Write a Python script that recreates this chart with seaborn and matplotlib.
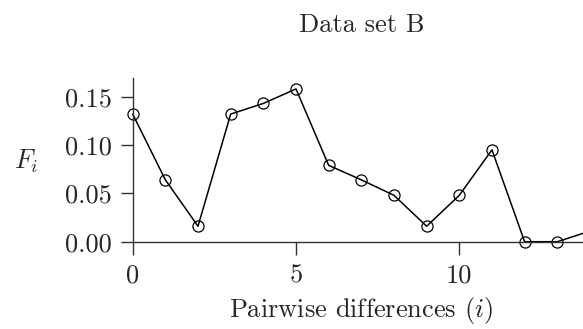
import numpy as np
import pandas as pd
import matplotlib
matplotlib.use('Agg')
import matplotlib.pyplot as plt
import seaborn as sns

# values
diffs = list(range(15))
freqs = [0.132, 0.064, 0.016, 0.132, 0.143, 0.158, 0.079, 0.064,
         0.048, 0.016, 0.048, 0.095, 0.0, 0.0, 0.011]
x_ticks = [0, 5, 10]
y_ticks = [0.00, 0.05, 0.10, 0.15]

sns.set_style('ticks')
plt.rcParams['font.family'] = 'serif'
plt.rcParams['font.serif'] = ['cmr10']
plt.rcParams['mathtext.fontset'] = 'cm'
plt.rcParams['axes.formatter.use_mathtext'] = True
plt.rcParams['font.size'] = 19

df = pd.DataFrame({'i': diffs, 'F': freqs})

fig = plt.figure(figsize=(5.83, 3.29), dpi=100)
ax = fig.add_axes([0.2276, 0.2653, 0.7843, 0.4967])

sns.lineplot(data=df, x='i', y='F', ax=ax, color='black', linewidth=1.1,
             marker='o', markersize=8, markerfacecolor='none',
             markeredgecolor='black', markeredgewidth=0.9)
for line in ax.lines:
    line.set_clip_on(False)

ax.set_xlim(0, 14)
ax.set_ylim(0, 0.169)
ax.set_xticks(x_ticks)
ax.set_xticklabels([str(v) for v in x_ticks])
ax.set_yticks(y_ticks)
ax.set_yticklabels([f'{v:.2f}' for v in y_ticks])

sns.despine(ax=ax)
for side in ['left', 'bottom']:
    ax.spines[side].set_color('#333333')
    ax.spines[side].set_linewidth(1.0)
ax.tick_params(axis='both', length=9, width=1.0, color='#333333', labelsize=19)
ax.tick_params(axis='y', pad=6)
ax.tick_params(axis='x', pad=7)

ax.set_title('Data set B', fontsize=19, pad=33)
ax.set_xlabel('Pairwise differences ($i$)', fontsize=19, labelpad=5)
ax.set_ylabel('$F_i$', fontsize=19, rotation=0, ha='center', va='center')
ax.yaxis.set_label_coords(-0.233, 0.494)

fig.savefig('out.png', dpi=100)
